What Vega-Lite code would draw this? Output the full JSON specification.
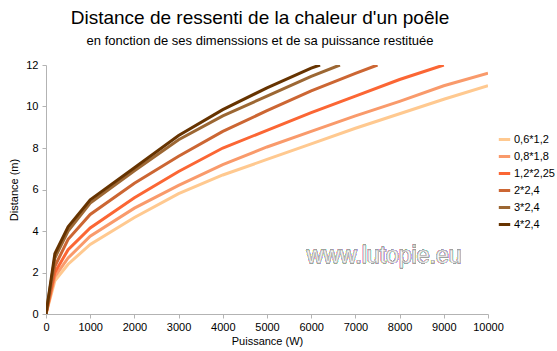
{
  "$schema": "https://vega.github.io/schema/vega-lite/v6.json",
  "width": 442,
  "height": 249,
  "autosize": "none",
  "padding": {"left": 46, "top": 65, "right": 69, "bottom": 37},
  "background": "white",
  "config": {
    "font": "Liberation Sans",
    "view": {"stroke": null}
  },
  "title": {
    "text": "Distance de ressenti de la chaleur d'un poêle",
    "subtitle": "en fonction de ses dimenssions et de sa puissance restituée",
    "anchor": "middle",
    "frame": "group",
    "dx": -7,
    "offset": 11,
    "fontSize": 19,
    "fontWeight": "normal",
    "font": "Liberation Sans",
    "color": "#000000",
    "subtitleFontSize": 13,
    "subtitleFont": "Liberation Sans",
    "subtitleColor": "#000000",
    "subtitlePadding": 7
  },
  "data": {
    "values": [
      {"s": "0,6*1,2", "p": 0, "d": 0},
      {"s": "0,6*1,2", "p": 200, "d": 1.6},
      {"s": "0,6*1,2", "p": 500, "d": 2.4},
      {"s": "0,6*1,2", "p": 1000, "d": 3.35},
      {"s": "0,6*1,2", "p": 2000, "d": 4.65},
      {"s": "0,6*1,2", "p": 3000, "d": 5.8},
      {"s": "0,6*1,2", "p": 4000, "d": 6.7},
      {"s": "0,6*1,2", "p": 5000, "d": 7.45},
      {"s": "0,6*1,2", "p": 6000, "d": 8.2},
      {"s": "0,6*1,2", "p": 7000, "d": 8.95},
      {"s": "0,6*1,2", "p": 8000, "d": 9.65},
      {"s": "0,6*1,2", "p": 9000, "d": 10.35},
      {"s": "0,6*1,2", "p": 10000, "d": 11.0},
      {"s": "0,8*1,8", "p": 0, "d": 0},
      {"s": "0,8*1,8", "p": 200, "d": 1.8},
      {"s": "0,8*1,8", "p": 500, "d": 2.7},
      {"s": "0,8*1,8", "p": 1000, "d": 3.75},
      {"s": "0,8*1,8", "p": 2000, "d": 5.1},
      {"s": "0,8*1,8", "p": 3000, "d": 6.2},
      {"s": "0,8*1,8", "p": 4000, "d": 7.2},
      {"s": "0,8*1,8", "p": 5000, "d": 8.05},
      {"s": "0,8*1,8", "p": 6000, "d": 8.8},
      {"s": "0,8*1,8", "p": 7000, "d": 9.55},
      {"s": "0,8*1,8", "p": 8000, "d": 10.25},
      {"s": "0,8*1,8", "p": 9000, "d": 11.0},
      {"s": "0,8*1,8", "p": 10000, "d": 11.6},
      {"s": "1,2*2,25", "p": 0, "d": 0},
      {"s": "1,2*2,25", "p": 200, "d": 2.0},
      {"s": "1,2*2,25", "p": 500, "d": 3.1},
      {"s": "1,2*2,25", "p": 1000, "d": 4.15},
      {"s": "1,2*2,25", "p": 2000, "d": 5.6},
      {"s": "1,2*2,25", "p": 3000, "d": 6.87},
      {"s": "1,2*2,25", "p": 4000, "d": 8.0},
      {"s": "1,2*2,25", "p": 5000, "d": 8.85},
      {"s": "1,2*2,25", "p": 6000, "d": 9.7},
      {"s": "1,2*2,25", "p": 7000, "d": 10.5},
      {"s": "1,2*2,25", "p": 8000, "d": 11.3},
      {"s": "1,2*2,25", "p": 9000, "d": 12.0},
      {"s": "2*2,4", "p": 0, "d": 0},
      {"s": "2*2,4", "p": 200, "d": 2.3},
      {"s": "2*2,4", "p": 500, "d": 3.6},
      {"s": "2*2,4", "p": 1000, "d": 4.8},
      {"s": "2*2,4", "p": 2000, "d": 6.3},
      {"s": "2*2,4", "p": 3000, "d": 7.6},
      {"s": "2*2,4", "p": 4000, "d": 8.8},
      {"s": "2*2,4", "p": 5000, "d": 9.8},
      {"s": "2*2,4", "p": 6000, "d": 10.75},
      {"s": "2*2,4", "p": 7000, "d": 11.6},
      {"s": "2*2,4", "p": 7500, "d": 12.0},
      {"s": "3*2,4", "p": 0, "d": 0},
      {"s": "3*2,4", "p": 200, "d": 2.7},
      {"s": "3*2,4", "p": 500, "d": 4.0},
      {"s": "3*2,4", "p": 1000, "d": 5.35},
      {"s": "3*2,4", "p": 2000, "d": 6.9},
      {"s": "3*2,4", "p": 3000, "d": 8.4},
      {"s": "3*2,4", "p": 4000, "d": 9.55},
      {"s": "3*2,4", "p": 5000, "d": 10.5},
      {"s": "3*2,4", "p": 6000, "d": 11.45},
      {"s": "3*2,4", "p": 6650, "d": 12.0},
      {"s": "4*2,4", "p": 0, "d": 0},
      {"s": "4*2,4", "p": 200, "d": 2.9},
      {"s": "4*2,4", "p": 500, "d": 4.2},
      {"s": "4*2,4", "p": 1000, "d": 5.5},
      {"s": "4*2,4", "p": 2000, "d": 7.05},
      {"s": "4*2,4", "p": 3000, "d": 8.6},
      {"s": "4*2,4", "p": 4000, "d": 9.85},
      {"s": "4*2,4", "p": 5000, "d": 10.9},
      {"s": "4*2,4", "p": 6000, "d": 11.85},
      {"s": "4*2,4", "p": 6200, "d": 12.0}
    ]
  },
  "layer": [
    {
      "mark": {"type": "text", "fontSize": 23, "font": "Liberation Sans", "fontWeight": "normal", "fill": "white", "stroke": "#a0a0a0", "strokeWidth": 0.5, "align": "center", "baseline": "middle"},
      "encoding": {
        "x": {"datum": 7650, "type": "quantitative"},
        "y": {"datum": 2.8, "type": "quantitative"},
        "text": {"value": "www.lutopie.eu"}
      }
    },
    {
      "mark": {"type": "line", "strokeWidth": 3, "clip": true, "strokeJoin": "miter"},
      "encoding": {
        "x": {
          "field": "p", "type": "quantitative",
          "scale": {"domain": [0, 10000], "nice": false},
          "axis": {
            "title": "Puissance (W)", "values": [0,1000,2000,3000,4000,5000,6000,7000,8000,9000,10000],
            "format": "d", "labelFontSize": 11, "labelColor": "#000000", "labelPadding": 3,
            "titleFontSize": 11, "titleFontWeight": "normal", "titleColor": "#000000", "titlePadding": 3,
            "gridColor": "#b3b3b3", "domainColor": "#b3b3b3", "tickColor": "#b3b3b3", "tickSize": 4,
            "labelFlush": false, "labelOverlap": false
          }
        },
        "y": {
          "field": "d", "type": "quantitative",
          "scale": {"domain": [0, 12], "nice": false},
          "axis": {
            "title": "Distance (m)", "values": [0,2,4,6,8,10,12],
            "labelFontSize": 11, "labelColor": "#000000", "labelPadding": 4,
            "titleFontSize": 11, "titleFontWeight": "normal", "titleColor": "#000000", "titlePadding": 6,
            "gridColor": "#b3b3b3", "domainColor": "#b3b3b3", "tickColor": "#b3b3b3", "tickSize": 4
          }
        },
        "color": {
          "field": "s", "type": "nominal",
          "scale": {
            "domain": ["0,6*1,2", "0,8*1,8", "1,2*2,25", "2*2,4", "3*2,4", "4*2,4"],
            "range": ["#FFC990", "#F99A6B", "#FB6634", "#CC6633", "#9C6733", "#663300"]
          },
          "legend": {
            "title": null, "orient": "none", "legendX": 451, "legendY": 67,
            "symbolType": "stroke", "symbolStrokeWidth": 3, "symbolSize": 130,
            "labelFontSize": 11, "labelColor": "#000000", "rowPadding": 3, "labelOffset": 2
          }
        }
      }
    }
  ]
}
